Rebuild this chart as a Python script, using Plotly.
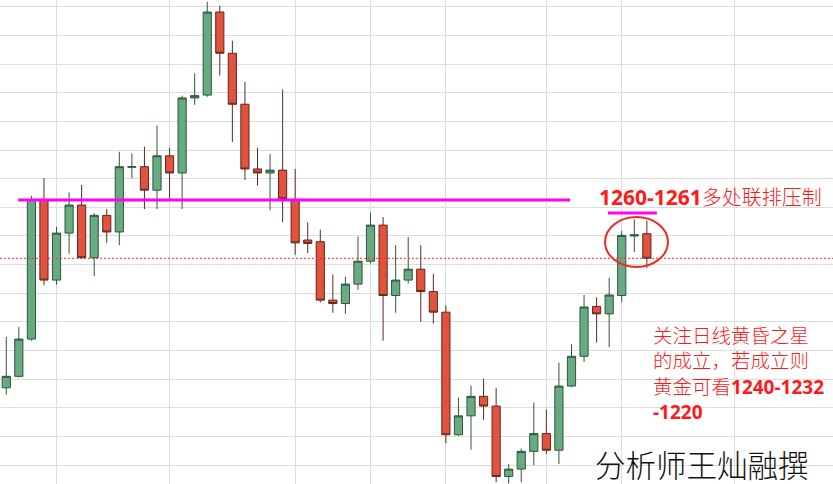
import plotly.graph_objects as go

# daily gold candles (USD/oz)
opens = [1228.5, 1230.5, 1237.0, 1261.3, 1247.3, 1255.5, 1260.4, 1251.2, 1258.6, 1255.7,
         1267.0, 1267.1, 1263.0, 1269.0, 1266.0, 1279.1, 1279.6, 1294.1, 1286.9, 1278.0,
         1266.7, 1266.0, 1266.5, 1261.4, 1254.3, 1254.0, 1243.8, 1243.2, 1246.6, 1250.6,
         1256.9, 1244.6, 1247.3, 1249.2, 1245.3, 1241.7, 1220.3, 1223.6, 1227.0, 1225.3,
         1213.0, 1214.3, 1217.4, 1220.5, 1217.6, 1228.8, 1234.0, 1242.7, 1241.4, 1244.6,
         1255.0, 1255.4]
highs = [1237.4, 1239.1, 1262.0, 1265.1, 1256.6, 1262.6, 1263.9, 1259.0, 1259.7, 1269.7,
         1269.4, 1270.6, 1274.3, 1270.4, 1279.5, 1283.4, 1295.9, 1295.2, 1289.1, 1281.9,
         1270.4, 1269.3, 1280.6, 1266.7, 1257.4, 1256.1, 1248.3, 1247.9, 1254.9, 1259.1,
         1258.3, 1253.4, 1254.8, 1253.4, 1248.4, 1242.9, 1226.8, 1228.9, 1230.1, 1228.5,
         1215.2, 1217.9, 1225.9, 1224.7, 1232.9, 1236.1, 1244.7, 1244.3, 1247.7, 1255.9,
         1257.9, 1257.7]
lows = [1227.3, 1230.3, 1236.7, 1246.4, 1246.5, 1251.9, 1251.1, 1248.0, 1253.8, 1253.4,
        1265.1, 1259.7, 1259.7, 1261.3, 1259.7, 1277.9, 1279.3, 1283.0, 1271.4, 1264.8,
        1263.8, 1259.5, 1257.4, 1251.7, 1252.0, 1243.4, 1241.6, 1241.4, 1245.6, 1250.2,
        1236.7, 1241.6, 1246.7, 1240.0, 1239.7, 1218.8, 1220.1, 1217.7, 1222.9, 1212.0,
        1211.8, 1212.0, 1215.0, 1216.9, 1215.2, 1228.6, 1233.0, 1236.4, 1235.6, 1243.5,
        1252.2, 1249.4]
closes = [1230.5, 1237.0, 1261.4, 1247.3, 1255.5, 1260.4, 1251.2, 1258.6, 1255.7, 1267.1,
          1267.1, 1263.0, 1269.0, 1266.0, 1279.1, 1279.5, 1294.1, 1286.9, 1278.0, 1266.7,
          1266.0, 1266.5, 1261.5, 1253.8, 1253.7, 1243.8, 1243.2, 1246.6, 1250.6, 1256.9,
          1244.6, 1247.3, 1249.2, 1245.3, 1241.7, 1220.3, 1223.6, 1227.0, 1225.3, 1213.0,
          1214.3, 1217.4, 1220.5, 1217.6, 1228.8, 1234.0, 1242.6, 1241.4, 1244.7, 1255.1,
          1255.2, 1251.1]
day_index = list(range(len(opens)))

# levels
resistance = 1261.3
recent_top = 1259.0
last_price = 1251.1
grid_days = [4, 13, 23, 29, 35, 43, 49, 58]

fig = go.Figure()
fig.add_trace(go.Candlestick(
    x=day_index, open=opens, high=highs, low=lows, close=closes,
    increasing=dict(fillcolor="#68aa82", line=dict(color="#2f553d", width=1)),
    decreasing=dict(fillcolor="#e2523c", line=dict(color="#5a2a22", width=1)),
    whiskerwidth=0, showlegend=False, hoverinfo="skip",
))

shapes = [
    dict(type="line", xref="paper", x0=0, x1=1, y0=last_price, y1=last_price,
         line=dict(color="#ff2a2a", width=1, dash="2px,2px"), layer="above"),
    dict(type="line", x0=0.95, x1=44.9, y0=resistance, y1=resistance,
         line=dict(color="#ff00ff", width=3), layer="above"),
    dict(type="line", x0=47.9, x1=51.8, y0=recent_top, y1=recent_top,
         line=dict(color="#ff00ff", width=3), layer="above"),
    dict(type="circle", x0=47.67, x1=52.68, y0=1249.6, y1=1258.3,
         line=dict(color="#e8302a", width=2), layer="above"),
]

cjk = "Noto Sans CJK SC"
annotations = [
    dict(xref="paper", yref="paper", x=597 / 833, y=1 - 196 / 484, xanchor="left", yanchor="middle",
         showarrow=False, align="left",
         text="<span style='font-family:Noto Sans;font-weight:bold;font-size:21px'>1260-1261</span>多处联排压制",
         font=dict(family=cjk, size=20, color="#ff1a1a", weight=300)),
    dict(xref="paper", yref="paper", x=651 / 833, y=1 - 372 / 484, xanchor="left", yanchor="middle",
         showarrow=False, align="left",
         text=("关注日线黄昏之星<br>的成立，若成立则<br>黄金可看"
               "<span style='font-family:Noto Sans;font-weight:bold;font-size:19px'>1240-1232</span><br>"
               "<span style='font-family:Noto Sans;font-weight:bold;font-size:19px'>-1220</span>"),
         font=dict(family=cjk, size=19.5, color="#ff1a1a", weight=300)),
    dict(xref="paper", yref="paper", x=593 / 833, y=1 - 464 / 484, xanchor="left", yanchor="middle",
         showarrow=False, text="分析师王灿融撰",
         font=dict(family=cjk, size=30.5, color="#111111", weight=300)),
]

fig.update_layout(
    width=833, height=484, margin=dict(l=0, r=0, t=0, b=0),
    paper_bgcolor="white", plot_bgcolor="white",
    boxgap=0.35, boxgroupgap=0,
    shapes=shapes, annotations=annotations,
    xaxis=dict(range=[-0.5, 65.82], tickmode="array", tickvals=grid_days, showticklabels=False,
               showgrid=True, gridcolor="#dddddd", gridwidth=1, zeroline=False, showline=False,
               rangeslider=dict(visible=False), ticks=""),
    yaxis=dict(range=[1211.7, 1296.2], tick0=1215, dtick=5, showticklabels=False,
               showgrid=True, gridcolor="#dddddd", gridwidth=1, zeroline=False, showline=False, ticks=""),
)

fig.write_html("out.html", config={"displayModeBar": False},
               post_script="document.body.style.margin='0';document.body.style.overflow='hidden';")
